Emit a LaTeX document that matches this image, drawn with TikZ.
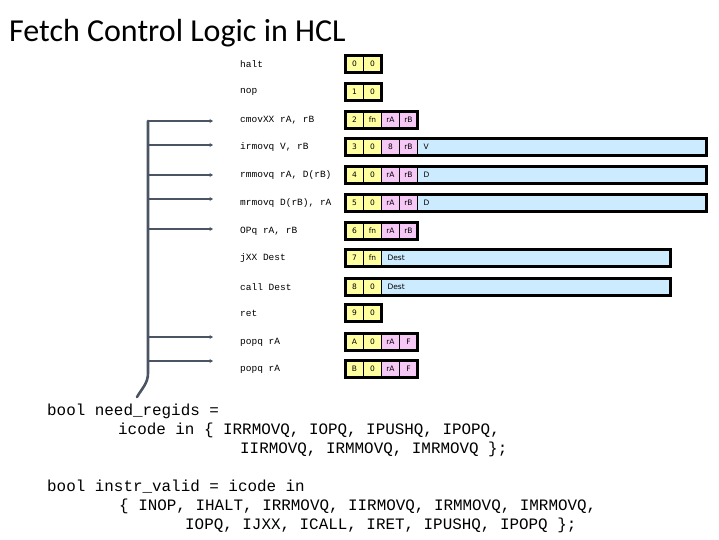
\documentclass[tikz,border=0pt]{standalone}
\usepackage{fontspec}
\usepackage{xcolor}
\usepackage{tikz}
\usetikzlibrary{arrows.meta,positioning}
\newfontfamily\titlefont{Carlito}
\newfontfamily\codefont{Liberation Mono}
\newfontfamily\cellfont{DejaVu Sans}
\definecolor{opyellow}{RGB}{255,255,160}
\definecolor{regpink}{RGB}{245,200,245}
\definecolor{valblue}{RGB}{204,235,255}
\definecolor{busgray}{RGB}{74,84,98}
\tikzset{
  cell/.style={draw=black,line width=0.8pt,minimum width=18pt,minimum height=17pt,inner sep=0pt,outer sep=0pt,font=\cellfont\fontsize{7.5}{9}\selectfont},
  ycell/.style={cell,fill=opyellow},
  pcell/.style={cell,fill=regpink},
  bfield/.style={cell,fill=valblue,minimum width=0pt,text width=277pt,inner xsep=6pt,align=left},
  frame/.style={draw=black,line width=3.5pt},
  instr/.style={anchor=west,inner sep=0pt,font=\codefont\fontsize{9.5}{11}\selectfont},
  hcl/.style={anchor=base west,inner sep=0pt,font=\codefont\fontsize{15.9}{19}\selectfont},
  bus/.style={draw=busgray,line width=2.6pt},
  busarrow/.style={bus,-{Stealth[length=3.5pt,width=4pt]}}
}

\begin{document}
\begin{tikzpicture}[x=1pt,y=-1pt]
\useasboundingbox (0,0) rectangle (719,539);

\node[anchor=base west,inner sep=0pt,font=\titlefont\fontsize{32}{38}\selectfont] (title) at (9,41) {Fetch Control Logic in HCL};

% instruction names
\node[instr] (lhalt) at (240,64) {halt};
\node[instr] (lnop) at (240,92) {nop};
\node[instr] (lcmov) at (240,120) {cmovXX rA, rB};
\node[instr] (lirmov) at (240,147) {irmovq V, rB};
\node[instr] (lrmmov) at (240,175) {rmmovq rA, D(rB)};
\node[instr] (lmrmov) at (240,203) {mrmovq D(rB), rA};
\node[instr] (lopq) at (240,231) {OPq rA, rB};
\node[instr] (ljxx) at (240,258) {jXX Dest};
\node[instr] (lcall) at (240,287) {call Dest};
\node[instr] (lret) at (240,313) {ret};
\node[instr] (lpopa) at (240,342) {popq rA};
\node[instr] (lpopb) at (240,369) {popq rA};

% encodings
\node[ycell] (halt1) at (354.5,64) {0};
\node[ycell,right=0pt of halt1] (halt2) {0};
\draw[frame] (halt1.north west) rectangle (halt2.south east);

\node[ycell] (nop1) at (354.5,92) {1};
\node[ycell,right=0pt of nop1] (nop2) {0};
\draw[frame] (nop1.north west) rectangle (nop2.south east);

\node[ycell] (cmov1) at (354.5,120) {2};
\node[ycell,right=0pt of cmov1] (cmov2) {fn};
\node[pcell,right=0pt of cmov2] (cmov3) {rA};
\node[pcell,right=0pt of cmov3] (cmov4) {rB};
\draw[frame] (cmov1.north west) rectangle (cmov4.south east);

\node[ycell] (irmov1) at (354.5,147) {3};
\node[ycell,right=0pt of irmov1] (irmov2) {0};
\node[pcell,right=0pt of irmov2] (irmov3) {8};
\node[pcell,right=0pt of irmov3] (irmov4) {rB};
\node[bfield,right=0pt of irmov4] (irmov5) {V};
\draw[frame] (irmov1.north west) rectangle (irmov5.south east);

\node[ycell] (rmmov1) at (354.5,175) {4};
\node[ycell,right=0pt of rmmov1] (rmmov2) {0};
\node[pcell,right=0pt of rmmov2] (rmmov3) {rA};
\node[pcell,right=0pt of rmmov3] (rmmov4) {rB};
\node[bfield,right=0pt of rmmov4] (rmmov5) {D};
\draw[frame] (rmmov1.north west) rectangle (rmmov5.south east);

\node[ycell] (mrmov1) at (354.5,203) {5};
\node[ycell,right=0pt of mrmov1] (mrmov2) {0};
\node[pcell,right=0pt of mrmov2] (mrmov3) {rA};
\node[pcell,right=0pt of mrmov3] (mrmov4) {rB};
\node[bfield,right=0pt of mrmov4] (mrmov5) {D};
\draw[frame] (mrmov1.north west) rectangle (mrmov5.south east);

\node[ycell] (opq1) at (354.5,231) {6};
\node[ycell,right=0pt of opq1] (opq2) {fn};
\node[pcell,right=0pt of opq2] (opq3) {rA};
\node[pcell,right=0pt of opq3] (opq4) {rB};
\draw[frame] (opq1.north west) rectangle (opq4.south east);

\node[ycell] (jxx1) at (354.5,258) {7};
\node[ycell,right=0pt of jxx1] (jxx2) {fn};
\node[bfield,right=0pt of jxx2] (jxx3) {Dest};
\draw[frame] (jxx1.north west) rectangle (jxx3.south east);

\node[ycell] (call1) at (354.5,287) {8};
\node[ycell,right=0pt of call1] (call2) {0};
\node[bfield,right=0pt of call2] (call3) {Dest};
\draw[frame] (call1.north west) rectangle (call3.south east);

\node[ycell] (ret1) at (354.5,313) {9};
\node[ycell,right=0pt of ret1] (ret2) {0};
\draw[frame] (ret1.north west) rectangle (ret2.south east);

\node[ycell] (popa1) at (354.5,342) {A};
\node[ycell,right=0pt of popa1] (popa2) {0};
\node[pcell,right=0pt of popa2] (popa3) {rA};
\node[pcell,right=0pt of popa3] (popa4) {F};
\draw[frame] (popa1.north west) rectangle (popa4.south east);

\node[ycell] (popb1) at (354.5,369) {B};
\node[ycell,right=0pt of popb1] (popb2) {0};
\node[pcell,right=0pt of popb2] (popb3) {rA};
\node[pcell,right=0pt of popb3] (popb4) {F};
\draw[frame] (popb1.north west) rectangle (popb4.south east);

% bus collecting the instructions that need registers
\coordinate (bustop) at (148,121);
\coordinate (busbot) at (148,373);
\coordinate (busend) at (137,397);
\coordinate (tcmov) at (213,121);
\coordinate (tirmov) at (213,145);
\coordinate (trmmov) at (213,175);
\coordinate (tmrmov) at (213,199);
\coordinate (topq) at (213,229);
\coordinate (tpopa) at (213,337);
\coordinate (tpopb) at (213,361);
\draw[bus,line cap=round] (busend) to[out=60,in=-90] (busbot) -- (bustop);
\draw[busarrow] (bustop) -- (tcmov);
\draw[busarrow] (bustop |- tirmov) -- (tirmov);
\draw[busarrow] (bustop |- trmmov) -- (trmmov);
\draw[busarrow] (bustop |- tmrmov) -- (tmrmov);
\draw[busarrow] (bustop |- topq) -- (topq);
\draw[busarrow] (bustop |- tpopa) -- (tpopa);
\draw[busarrow] (bustop |- tpopb) -- (tpopb);

% HCL code
\node[hcl] (hcl1) at (47,415) {bool need\_regids =};
\node[hcl] (hcl2) at (118,434) {icode in \{ IRRMOVQ, IOPQ, IPUSHQ, IPOPQ,};
\node[hcl] (hcl3) at (240,453) {IIRMOVQ, IRMMOVQ, IMRMOVQ \};};
\node[hcl] (hcl4) at (47,491) {bool instr\_valid = icode in};
\node[hcl] (hcl5) at (119,510) {\{ INOP, IHALT, IRRMOVQ, IIRMOVQ, IRMMOVQ, IMRMOVQ,};
\node[hcl] (hcl6) at (185,529) {IOPQ, IJXX, ICALL, IRET, IPUSHQ, IPOPQ \};};
\end{tikzpicture}
\end{document}
